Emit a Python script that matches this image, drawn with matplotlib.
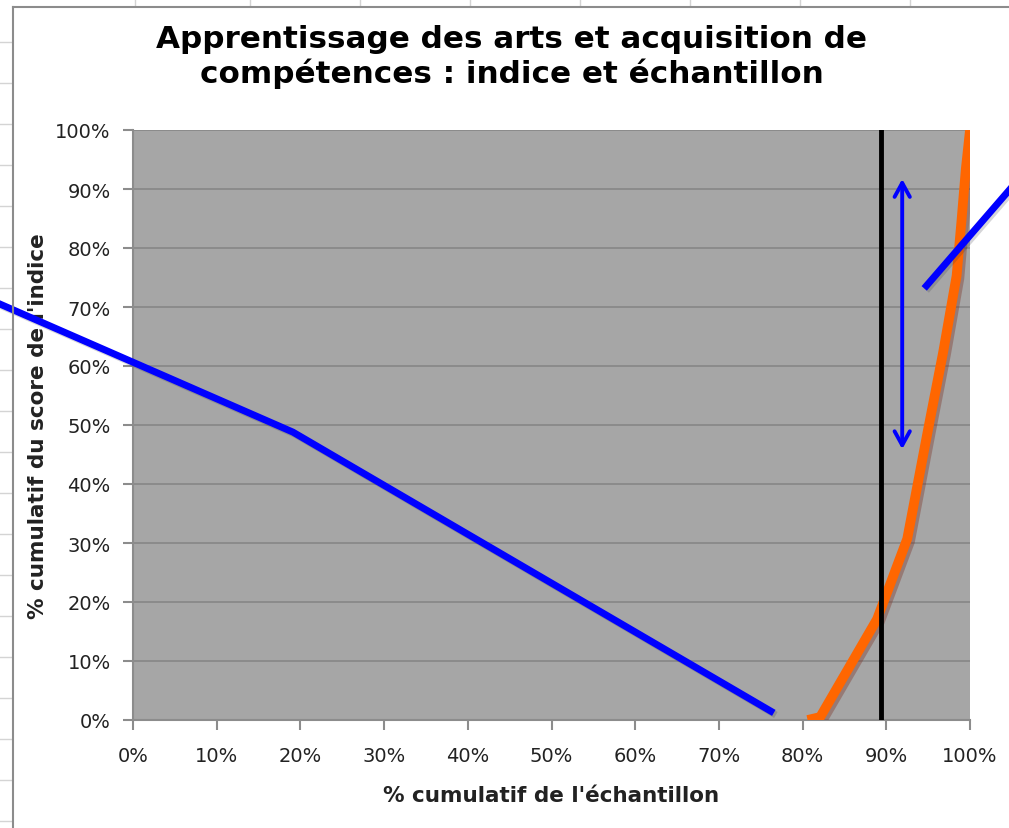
"""Cumulative index score vs cumulative sample, Excel-style chart with annotations."""

import matplotlib

matplotlib.use("Agg")
import matplotlib.pyplot as plt
import matplotlib.patheffects as pe
from matplotlib.lines import Line2D
from matplotlib.ticker import FuncFormatter, MultipleLocator

# cumulative curve (% of sample, % of index score)
sample_pct = [80.6, 82.1, 88.9, 92.5, 95.0, 96.8, 98.4, 99.0, 99.5, 100.0]
score_pct = [0.0, 0.5, 17.1, 30.7, 49.3, 62.4, 75.3, 84.9, 93.4, 100.0]

# vertical reference line
threshold_x = 89.4

# hand-drawn blue annotations (data coords, run past the plot area)
long_line_x = [-15.9, 19.1, 76.2]
long_line_y = [70.5, 48.8, 1.5]
short_line_x = [94.8, 104.8]
short_line_y = [73.6, 90.0]
arrow_x = 91.9
arrow_y = [91.7, 45.9]

W, H = 1009, 829
fig = plt.figure(figsize=(W / 100, H / 100), dpi=100)
fig.patch.set_facecolor("white")

# spreadsheet grid peeking out around the chart object
grid_col = "#d4d4d4"
for y in range(43, H, 41):
    fig.add_artist(Line2D([0, 12 / W], [1 - y / H, 1 - y / H], color=grid_col, lw=1))
for x in [135, 250, 360, 470, 580, 690, 800, 910]:
    fig.add_artist(Line2D([x / W, x / W], [1, 1 - 6 / H], color=grid_col, lw=1))
# chart border
fig.add_artist(Line2D([13 / W, 13 / W], [0, 1 - 8 / H], color="#8c8c8c", lw=1.5))
fig.add_artist(Line2D([13 / W, 1], [1 - 8 / H, 1 - 8 / H], color="#8c8c8c", lw=1.5))

ax = fig.add_axes([133 / W, 1 - 721 / H, (970 - 133) / W, (721 - 131) / H])
ax.set_facecolor("#a6a6a6")
ax.set_xlim(0, 100)
ax.set_ylim(0, 100)
ax.xaxis.set_major_locator(MultipleLocator(10))
ax.yaxis.set_major_locator(MultipleLocator(10))
pct = FuncFormatter(lambda v, _: f"{v:.0f}%")
ax.xaxis.set_major_formatter(pct)
ax.yaxis.set_major_formatter(pct)
ax.grid(axis="y", color="#898989", lw=1.3)
ax.set_axisbelow(True)
for side in ["top", "right"]:
    ax.spines[side].set_visible(False)
for side in ["left", "bottom"]:
    ax.spines[side].set_color("#8c8c8c")
    ax.spines[side].set_linewidth(1.5)
ax.tick_params(axis="both", direction="out", length=7, width=1.5, color="#8c8c8c",
               labelsize=14, labelcolor="#222222", pad=9)
ax.tick_params(axis="x", pad=12)

orange_fx = [pe.SimpleLineShadow(offset=(2, -2), shadow_color="#7a2a1c", alpha=0.35), pe.Normal()]
blue_fx = [pe.SimpleLineShadow(offset=(1.5, -1.5), shadow_color="#303040", alpha=0.2), pe.Normal()]

ax.plot(sample_pct, score_pct, color="#ff6600", lw=7, solid_joinstyle="round",
        solid_capstyle="butt", path_effects=orange_fx, zorder=3)
ax.plot([threshold_x, threshold_x], [0, 100], color="black", lw=3.5, zorder=4)

ax.plot(long_line_x, long_line_y, color="#0000ff", lw=5, clip_on=False,
        path_effects=blue_fx, zorder=5)
ax.plot(short_line_x, short_line_y, color="#0000ff", lw=5, clip_on=False,
        path_effects=blue_fx, zorder=5)
ax.annotate("", xy=(arrow_x, arrow_y[0]), xytext=(arrow_x, arrow_y[1]),
            arrowprops=dict(arrowstyle="<->,head_length=1.0,head_width=0.55",
                            color="#0000ff", lw=2.8, shrinkA=0, shrinkB=0), zorder=5)

ax.set_xlabel("% cumulatif de l'échantillon", fontsize=15.5, fontweight="bold",
              color="#222222", labelpad=14)
ax.set_ylabel("% cumulatif du score de l'indice", fontsize=15.5, fontweight="bold",
              color="#222222", labelpad=5)

fig.text(512 / W, 1 - 57 / H, "Apprentissage des arts et acquisition de\ncompétences : indice et échantillon",
         ha="center", va="center", fontsize=22.3, fontweight="bold", color="black",
         linespacing=1.2)

fig.savefig("out.png", dpi=100)
